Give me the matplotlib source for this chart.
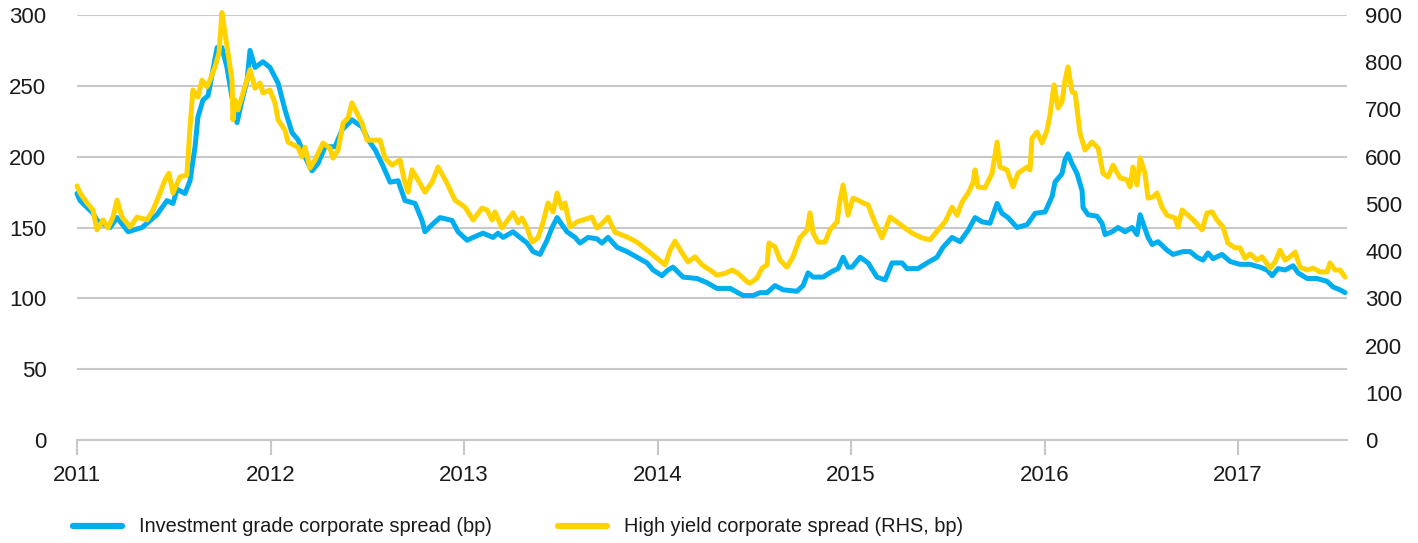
import matplotlib
matplotlib.use("Agg")
import matplotlib.pyplot as plt
from matplotlib.lines import Line2D

# ---------------- data ----------------
ig_dates = [2011.000, 2011.016, 2011.083, 2011.103, 2011.171, 2011.207, 2011.264, 2011.336,
            2011.413, 2011.465, 2011.496, 2011.517, 2011.558, 2011.584, 2011.610, 2011.625,
            2011.651, 2011.677, 2011.698, 2011.724, 2011.749, 2011.775, 2011.801, 2011.827,
            2011.853, 2011.879, 2011.894, 2011.920, 2011.961, 2011.997, 2012.039, 2012.075,
            2012.111, 2012.142, 2012.178, 2012.214, 2012.245, 2012.282, 2012.333, 2012.370,
            2012.421, 2012.473, 2012.504, 2012.540, 2012.576, 2012.618, 2012.659, 2012.695,
            2012.747, 2012.783, 2012.798, 2012.835, 2012.876, 2012.938, 2012.969, 2013.016,
            2013.047, 2013.098, 2013.150, 2013.176, 2013.202, 2013.253, 2013.289, 2013.326,
            2013.357, 2013.393, 2013.429, 2013.455, 2013.481, 2013.506, 2013.532, 2013.574,
            2013.599, 2013.641, 2013.687, 2013.713, 2013.744, 2013.791, 2013.842, 2013.894,
            2013.946, 2013.977, 2014.023, 2014.054, 2014.080, 2014.132, 2014.204, 2014.256,
            2014.307, 2014.375, 2014.442, 2014.494, 2014.530, 2014.566, 2014.607, 2014.649,
            2014.721, 2014.752, 2014.778, 2014.804, 2014.855, 2014.902, 2014.933, 2014.959,
            2014.984, 2015.005, 2015.047, 2015.088, 2015.134, 2015.176, 2015.212, 2015.264,
            2015.289, 2015.346, 2015.393, 2015.444, 2015.475, 2015.522, 2015.563, 2015.605,
            2015.641, 2015.677, 2015.718, 2015.755, 2015.780, 2015.811, 2015.858, 2015.910,
            2015.951, 2016.003, 2016.039, 2016.054, 2016.090, 2016.106, 2016.121, 2016.142,
            2016.168, 2016.194, 2016.199, 2016.225, 2016.271, 2016.297, 2016.313, 2016.349,
            2016.380, 2016.416, 2016.452, 2016.478, 2016.494, 2016.509, 2016.535, 2016.556,
            2016.587, 2016.633, 2016.664, 2016.716, 2016.752, 2016.788, 2016.819, 2016.845,
            2016.871, 2016.917, 2016.959, 2017.010, 2017.062, 2017.114, 2017.150, 2017.176,
            2017.207, 2017.243, 2017.284, 2017.310, 2017.357, 2017.408, 2017.460, 2017.491,
            2017.527, 2017.553]
ig_values = [174, 169, 160, 155, 150, 157, 147, 150,
             159, 169, 167, 177, 174, 183, 207, 228,
             240, 243, 258, 277, 277, 263, 242, 224,
             240, 254, 275, 263, 267, 263, 252, 233,
             217, 212, 200, 190, 195, 207, 207, 219,
             226, 221, 212, 205, 195, 182, 183, 169,
             167, 155, 147, 152, 157, 155, 147, 141,
             143, 146, 143, 146, 143, 147, 143, 139,
             133, 131, 141, 150, 157, 152, 147, 143,
             139, 143, 142, 139, 143, 136, 133, 129,
             125, 120, 116, 120, 122, 115, 114, 111,
             107, 107, 102, 102, 104, 104, 109, 106,
             105, 109, 118, 115, 115, 119, 121, 129,
             122, 122, 129, 125, 115, 113, 125, 125,
             121, 121, 125, 129, 136, 143, 140, 148,
             157, 154, 153, 167, 160, 157, 150, 152,
             160, 161, 172, 182, 188, 198, 202, 195,
             188, 176, 164, 159, 158, 153, 145, 147,
             150, 147, 150, 145, 159, 153, 143, 138,
             140, 134, 131, 133, 133, 129, 127, 132,
             128, 131, 126, 124, 124, 122, 120, 116,
             121, 120, 123, 118, 114, 114, 112, 108,
             106, 104]

hy_dates = [2011.000, 2011.016, 2011.052, 2011.083, 2011.103, 2011.134, 2011.160, 2011.186,
            2011.207, 2011.233, 2011.274, 2011.310, 2011.362, 2011.393, 2011.429, 2011.455,
            2011.475, 2011.496, 2011.532, 2011.568, 2011.584, 2011.599, 2011.625, 2011.646,
            2011.672, 2011.687, 2011.713, 2011.734, 2011.749, 2011.765, 2011.780, 2011.801,
            2011.806, 2011.817, 2011.832, 2011.858, 2011.894, 2011.920, 2011.946, 2011.961,
            2011.997, 2012.023, 2012.039, 2012.075, 2012.090, 2012.142, 2012.163, 2012.178,
            2012.204, 2012.230, 2012.271, 2012.307, 2012.323, 2012.349, 2012.375, 2012.401,
            2012.421, 2012.447, 2012.473, 2012.499, 2012.566, 2012.592, 2012.628, 2012.669,
            2012.695, 2012.711, 2012.731, 2012.762, 2012.798, 2012.835, 2012.866, 2012.912,
            2012.953, 2013.005, 2013.047, 2013.093, 2013.119, 2013.145, 2013.160, 2013.196,
            2013.253, 2013.279, 2013.300, 2013.326, 2013.351, 2013.382, 2013.408, 2013.434,
            2013.460, 2013.481, 2013.506, 2013.522, 2013.548, 2013.584, 2013.615, 2013.661,
            2013.687, 2013.718, 2013.744, 2013.780, 2013.842, 2013.894, 2013.946, 2013.997,
            2014.039, 2014.065, 2014.090, 2014.127, 2014.158, 2014.194, 2014.230, 2014.271,
            2014.307, 2014.349, 2014.385, 2014.416, 2014.463, 2014.478, 2014.514, 2014.540,
            2014.566, 2014.576, 2014.607, 2014.633, 2014.669, 2014.700, 2014.736, 2014.773,
            2014.788, 2014.804, 2014.829, 2014.866, 2014.891, 2014.928, 2014.943, 2014.959,
            2014.984, 2015.010, 2015.036, 2015.062, 2015.088, 2015.124, 2015.160, 2015.202,
            2015.243, 2015.279, 2015.315, 2015.367, 2015.408, 2015.450, 2015.486, 2015.522,
            2015.548, 2015.574, 2015.605, 2015.630, 2015.641, 2015.656, 2015.692, 2015.729,
            2015.755, 2015.770, 2015.806, 2015.837, 2015.863, 2015.910, 2015.925, 2015.935,
            2015.961, 2015.987, 2016.013, 2016.028, 2016.049, 2016.070, 2016.090, 2016.106,
            2016.121, 2016.142, 2016.158, 2016.173, 2016.183, 2016.209, 2016.245, 2016.277,
            2016.302, 2016.328, 2016.354, 2016.390, 2016.426, 2016.442, 2016.457, 2016.478,
            2016.494, 2016.519, 2016.535, 2016.561, 2016.581, 2016.607, 2016.633, 2016.674,
            2016.690, 2016.711, 2016.742, 2016.778, 2016.814, 2016.840, 2016.866, 2016.891,
            2016.922, 2016.948, 2016.984, 2017.010, 2017.036, 2017.062, 2017.098, 2017.124,
            2017.165, 2017.191, 2017.217, 2017.243, 2017.269, 2017.295, 2017.320, 2017.357,
            2017.388, 2017.424, 2017.460, 2017.475, 2017.501, 2017.527, 2017.553]
hy_values = [538, 523, 502, 487, 445, 466, 449, 472,
             508, 472, 451, 472, 466, 487, 523, 551,
             565, 523, 557, 561, 663, 741, 726, 762,
             748, 762, 790, 820, 905, 862, 820, 762,
             678, 720, 699, 735, 784, 745, 756, 735,
             741, 714, 678, 656, 631, 620, 600, 620,
             576, 593, 629, 618, 597, 614, 671, 682,
             714, 692, 671, 635, 635, 597, 582, 593,
             544, 525, 572, 551, 525, 546, 578, 544,
             508, 493, 466, 491, 487, 466, 483, 449,
             481, 460, 470, 449, 419, 428, 460, 502,
             483, 523, 491, 502, 451, 462, 466, 472,
             449, 460, 472, 440, 430, 419, 402, 385,
             371, 402, 421, 396, 377, 388, 371, 360,
             349, 353, 360, 353, 335, 332, 343, 364,
             371, 417, 409, 381, 366, 388, 428, 445,
             481, 438, 419, 419, 445, 462, 508, 540,
             476, 512, 508, 502, 498, 460, 428, 472,
             460, 449, 438, 428, 424, 445, 462, 493,
             476, 504, 523, 544, 572, 536, 534, 565,
             631, 578, 572, 536, 565, 578, 572, 639,
             652, 629, 656, 688, 752, 703, 716, 762,
             790, 737, 735, 684, 650, 614, 631, 618,
             565, 557, 582, 555, 551, 536, 578, 540,
             597, 565, 512, 515, 523, 493, 476, 470,
             451, 487, 476, 462, 445, 481, 483, 466,
             451, 417, 407, 407, 385, 394, 381, 388,
             364, 377, 402, 381, 388, 398, 366, 360,
             364, 356, 356, 375, 360, 360, 345]

year_ticks = [2011, 2012, 2013, 2014, 2015, 2016, 2017]
left_ticks = [0, 50, 100, 150, 200, 250, 300]
right_ticks = [0, 100, 200, 300, 400, 500, 600, 700, 800, 900]
series_labels = ["Investment grade corporate spread (bp)",
                 "High yield corporate spread (RHS, bp)"]

# ---------------- styling ----------------
BLUE = "#00AEEF"
YELLOW = "#FFD200"
GRID = "#C8C8C8"
TXT = "#1a1a1a"
plt.rcParams["font.family"] = ["Liberation Sans", "DejaVu Sans"]

W, H = 1418, 543
fig = plt.figure(figsize=(W / 100, H / 100), dpi=100)
x0, x1, ytop, ybot = 77, 1347, 15, 440
ax = fig.add_axes([x0 / W, 1 - ybot / H, (x1 - x0) / W, (ybot - ytop) / H])
ax2 = ax.twinx()

ax.plot(ig_dates, ig_values, color=BLUE, lw=3.6, solid_joinstyle="round",
        solid_capstyle="round", clip_on=False)
ax2.plot(hy_dates, hy_values, color=YELLOW, lw=3.6, solid_joinstyle="round",
         solid_capstyle="round", clip_on=False)

ax.set_xlim(2011.0, 2017.563)
ax.set_ylim(0, 300)
ax2.set_ylim(0, 900)

for a in (ax, ax2):
    for s in a.spines.values():
        s.set_visible(False)
ax.spines["bottom"].set_visible(True)
ax.spines["bottom"].set_color(GRID)
ax.spines["bottom"].set_linewidth(1.5)

ax.set_yticks(left_ticks)
ax.set_yticklabels([str(v) for v in left_ticks])
ax2.set_yticks(right_ticks)
ax2.set_yticklabels([str(v) for v in right_ticks])
ax.set_xticks(year_ticks)
ax.set_xticklabels([str(y) for y in year_ticks])

ax.yaxis.grid(True, color=GRID, lw=1.5)
ax.set_axisbelow(True)
ax.tick_params(axis="y", length=0, pad=22, labelsize=16, labelcolor=TXT)
ax2.tick_params(axis="y", length=0, pad=13, labelsize=16, labelcolor=TXT)
ax.tick_params(axis="x", length=11, width=1.5, color=GRID, pad=7, labelsize=16,
               labelcolor=TXT)

handles = [Line2D([0], [0], color=BLUE, lw=4.5, solid_capstyle="round"),
           Line2D([0], [0], color=YELLOW, lw=4.5, solid_capstyle="round")]
fs = 14.4
fig.legend(handles, series_labels, loc="center left",
           bbox_to_anchor=(73 / W, 1 - 527 / H), ncol=2, frameon=False,
           fontsize=fs, borderpad=0, borderaxespad=0, handlelength=2.45,
           handletextpad=0.85, columnspacing=3.3, labelcolor=TXT)

fig.savefig("out.png", dpi=100)
